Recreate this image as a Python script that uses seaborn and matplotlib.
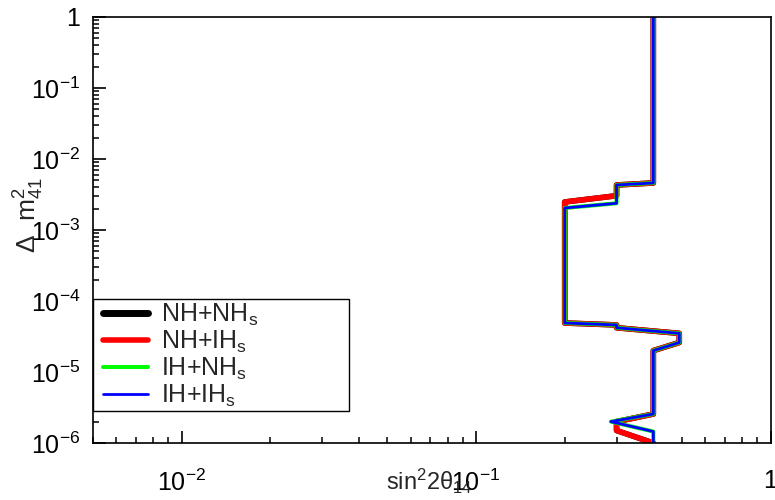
import numpy as np
import pandas as pd
import matplotlib
matplotlib.use("Agg")
import matplotlib.pyplot as plt
import matplotlib.ticker as mticker
from matplotlib.lines import Line2D
from matplotlib.legend_handler import HandlerLine2D
import seaborn as sns

# ---- data ----
series_names = ["NH+NH$_\\mathrm{s}$", "NH+IH$_\\mathrm{s}$", "IH+NH$_\\mathrm{s}$", "IH+IH$_\\mathrm{s}$"]

# contour shared by the NH+NHs / NH+IHs fits
sin2_nh = [0.40, 0.40, 0.30, 0.30, 0.20, 0.20, 0.30, 0.30, 0.49, 0.49, 0.40, 0.40, 0.30, 0.30, 0.40]
dm2_nh = [1.0, 4.6e-3, 4.3e-3, 3.04e-3, 2.48e-3, 4.9e-5, 4.6e-5, 4.2e-5, 3.5e-5, 2.6e-5, 2.0e-5, 2.56e-6, 2.0e-6, 1.5e-6, 1.0e-6]

# contour shared by the IH+NHs / IH+IHs fits
sin2_ih = [0.40, 0.40, 0.30, 0.30, 0.20, 0.20, 0.30, 0.30, 0.49, 0.49, 0.40, 0.40, 0.287, 0.40, 0.40]
dm2_ih = [1.0, 4.6e-3, 4.3e-3, 2.38e-3, 2.04e-3, 4.9e-5, 4.6e-5, 4.2e-5, 3.5e-5, 2.6e-5, 2.0e-5, 2.56e-6, 2.0e-6, 1.45e-6, 1.0e-6]

series_x = [sin2_nh, sin2_nh, sin2_ih, sin2_ih]
series_y = [dm2_nh, dm2_nh, dm2_ih, dm2_ih]
colors = ["#000000", "#ff0000", "#00ff00", "#0000ff"]
widths = [4.0, 4.0, 2.9, 2.0]
legend_widths = [5.0, 4.0, 2.9, 2.0]

x_ticks = [1e-2, 1e-1, 1]
y_ticks = [1e-6, 1e-5, 1e-4, 1e-3, 1e-2, 1e-1, 1]

# ---- style ----
sns.set_theme(style="white")
plt.rcParams["font.family"] = ["Liberation Sans", "DejaVu Sans"]
plt.rcParams["mathtext.fontset"] = "custom"
plt.rcParams["mathtext.rm"] = "Liberation Sans"
plt.rcParams["mathtext.it"] = "Liberation Sans:italic"
plt.rcParams["mathtext.bf"] = "Liberation Sans:bold"
plt.rcParams["xtick.bottom"] = True
plt.rcParams["ytick.left"] = True

fig = plt.figure(figsize=(7.75, 5.0), dpi=100)
ax = fig.add_axes([93 / 775, 1 - 443 / 500, (770.5 - 93) / 775, (443 - 17) / 500])

for name, xs, ys, c, lw in zip(series_names, series_x, series_y, colors, widths):
    df = pd.DataFrame({"x": xs, "y": ys})
    sns.lineplot(data=df, x="x", y="y", sort=False, estimator=None, ax=ax,
                 color=c, linewidth=lw, label=name)

ax.set_xscale("log")
ax.set_yscale("log")
ax.set_xlim(0.005, 1.0)
ax.set_ylim(1e-6, 1.0)

def fmt(v, pos):
    if abs(v - 1) < 1e-12:
        return "1"
    e = int(round(np.log10(v)))
    return r"$10^{%d}$" % e

ax.xaxis.set_major_locator(mticker.FixedLocator(x_ticks))
ax.yaxis.set_major_locator(mticker.FixedLocator(y_ticks))
ax.xaxis.set_major_formatter(mticker.FuncFormatter(fmt))
ax.yaxis.set_major_formatter(mticker.FuncFormatter(fmt))
ax.xaxis.set_minor_locator(mticker.LogLocator(base=10, subs=np.arange(2, 10)))
ax.yaxis.set_minor_locator(mticker.LogLocator(base=10, subs=np.arange(2, 10)))
ax.xaxis.set_minor_formatter(mticker.NullFormatter())
ax.yaxis.set_minor_formatter(mticker.NullFormatter())

ax.tick_params(axis="both", which="both", direction="in", colors="black",
               top=False, right=False, bottom=True, left=True)
ax.tick_params(axis="both", which="major", length=9, width=1.2, labelsize=18)
ax.tick_params(axis="both", which="minor", length=4.5, width=1.1)
ax.tick_params(axis="x", which="major", pad=19)
ax.tick_params(axis="y", which="major", pad=9)

for sp in ax.spines.values():
    sp.set_color("black")
    sp.set_linewidth(1.2)

ax.set_xlabel(r"$\mathrm{sin^{2}2θ_{14}}$", fontsize=17)
ax.set_ylabel(r"$\mathrm{Δ\ \ m^{2}_{41}}$", fontsize=19)
ax.xaxis.set_label_coords(0.496, -0.055)
ax.yaxis.set_label_coords(-0.07, 0.535)

leg = ax.legend(loc="lower left", bbox_to_anchor=(0.0, 0.075, 0.378, 0.268),
                mode="expand", borderaxespad=0, fontsize=18, frameon=True,
                fancybox=False, framealpha=1, edgecolor="black",
                numpoints=2, handler_map={Line2D: HandlerLine2D(marker_pad=0.3)},
                handlelength=2.4, handletextpad=0.22, labelspacing=0.03,
                borderpad=0.1)
leg.get_frame().set_linewidth(1.0)
for ln, lw in zip(leg.get_lines(), legend_widths):
    ln.set_linewidth(lw)

fig.savefig("out.png", dpi=100, facecolor="white")
